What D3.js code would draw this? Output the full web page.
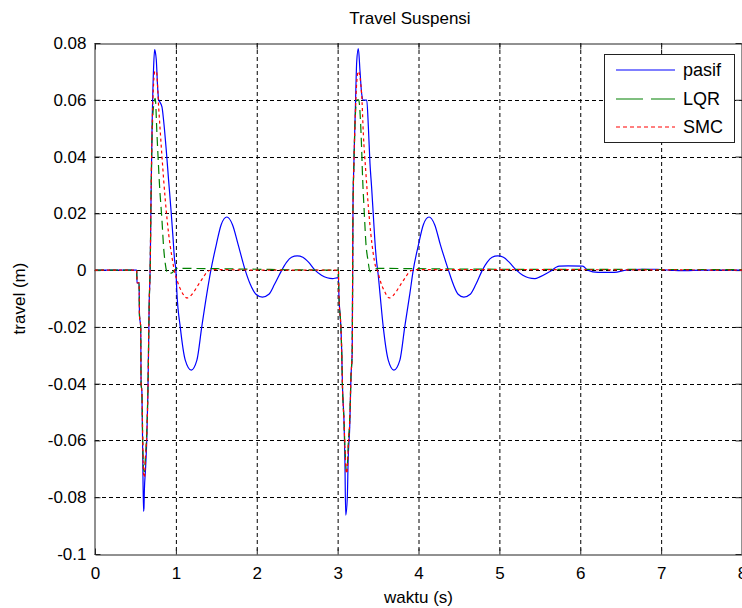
<!DOCTYPE html>
<html><head><meta charset="utf-8">
<script src="https://cdn.jsdelivr.net/npm/d3@7"></script>
<style>
html,body{margin:0;padding:0;background:#fff;}
text{font-family:"Liberation Sans",Arial,sans-serif;fill:#000;}
</style></head>
<body>
<svg id="chart" width="742" height="608"></svg>
<script>
const title = "Travel Suspensi";
const xLabel = "waktu (s)";
const yLabel = "travel (m)";
const xTicks = [0,1,2,3,4,5,6,7,8];
const yTicks = [-0.1,-0.08,-0.06,-0.04,-0.02,0,0.02,0.04,0.06,0.08];
const seriesNames = ["pasif","LQR","SMC"];

const tPasif = [0,0.515,0.52,0.545,0.55,0.565,0.57,0.58,0.59,0.60,0.605,0.61,0.625,0.64,0.655,0.67,0.684,0.69,0.705,0.725,0.737,0.745,0.758,0.774,0.787,0.80,0.828,0.848,0.881,0.91,0.94,0.964,0.984,1.0,1.013,1.054,1.116,1.19,1.26,1.32,1.384,1.433,1.50,1.56,1.63,1.70,1.77,1.857,1.92,1.99,2.07,2.15,2.22,2.31,2.37,2.43,2.50,2.57,2.64,2.72,2.80,2.87,2.94,2.99,3.01,3.015,3.04,3.05,3.06,3.08,3.09,3.10,3.12,3.13,3.15,3.165,3.18,3.186,3.19,3.20,3.22,3.236,3.256,3.277,3.297,3.318,3.36,3.38,3.40,3.42,3.44,3.46,3.48,3.50,3.523,3.564,3.626,3.696,3.77,3.83,3.894,3.935,4.0,4.06,4.13,4.20,4.27,4.37,4.43,4.49,4.56,4.64,4.71,4.79,4.85,4.91,4.98,5.05,5.12,5.21,5.29,5.36,5.44,5.50,5.62,5.74,5.85,6.03,6.09,6.22,6.42,6.57,6.75,6.95,7.1,7.3,7.5,8.0];
const pasif = [0,0,-0.0045,-0.0045,-0.016,-0.02,-0.04,-0.043,-0.065,-0.085,-0.084,-0.078,-0.07,-0.06,-0.042,-0.012,0.004,0.019,0.049,0.0716,0.0777,0.077,0.074,0.0646,0.06,0.0593,0.0575,0.0528,0.0423,0.0317,0.0211,0.0117,0.0035,0,-0.0081,-0.02,-0.0317,-0.0352,-0.0317,-0.02,-0.0081,0,0.009,0.016,0.0187,0.016,0.009,0,-0.005,-0.0085,-0.0095,-0.0085,-0.005,0,0.0028,0.0045,0.005,0.0045,0.0028,0,-0.0018,-0.0027,-0.003,-0.0027,-0.0027,-0.008,-0.02,-0.028,-0.041,-0.054,-0.067,-0.0863,-0.08,-0.067,-0.055,-0.0376,-0.029,0,0.0223,0.0364,0.0575,0.0734,0.078,0.07,0.0622,0.0599,0.0599,0.0505,0.0376,0.0293,0.02,0.0106,0.0035,-0.0012,-0.008,-0.02,-0.0317,-0.0352,-0.0317,-0.02,-0.0081,0,0.009,0.016,0.0187,0.016,0.009,0,-0.005,-0.0085,-0.0095,-0.0085,-0.005,0,0.0028,0.0045,0.005,0.0045,0.0028,0,-0.0018,-0.0027,-0.003,-0.0024,-0.0006,0.0014,0.0015,0.0014,0,-0.0008,-0.0008,0,0.0003,0.0003,0,-0.0002,0,0];

const tLqr = [0,0.515,0.52,0.545,0.55,0.565,0.57,0.58,0.59,0.60,0.61,0.625,0.64,0.655,0.67,0.684,0.69,0.705,0.725,0.745,0.766,0.799,0.828,0.848,0.869,0.898,0.95,1.01,1.5,2.0,2.5,3.0,3.01,3.015,3.04,3.05,3.06,3.08,3.09,3.11,3.12,3.13,3.15,3.165,3.18,3.186,3.19,3.20,3.22,3.24,3.26,3.29,3.31,3.33,3.35,3.375,3.40,3.45,3.5,4.0,5.0,8.0];
const lqr = [0,0,-0.0045,-0.0045,-0.016,-0.02,-0.04,-0.043,-0.06,-0.07,-0.071,-0.065,-0.057,-0.041,-0.012,0.004,0.019,0.046,0.058,0.0605,0.048,0.0293,0.0176,0.0082,0.0023,-0.0012,-0.001,0.0006,0.0005,0.0003,0.0001,0,0,-0.008,-0.02,-0.028,-0.041,-0.054,-0.062,-0.071,-0.069,-0.062,-0.052,-0.0376,-0.029,0,0.022,0.036,0.055,0.06,0.06,0.048,0.0317,0.02,0.0094,0.0035,-0.0005,0.0002,0.0006,0.0005,0.0003,0.0002];

const tSmc = [0,0.515,0.52,0.545,0.55,0.565,0.57,0.58,0.59,0.60,0.61,0.625,0.64,0.655,0.67,0.684,0.69,0.705,0.725,0.74,0.76,0.787,0.828,0.869,0.91,0.951,0.98,1.02,1.07,1.14,1.20,1.27,1.34,1.40,1.5,2.0,3.0,3.01,3.015,3.04,3.05,3.06,3.08,3.09,3.11,3.12,3.13,3.15,3.165,3.18,3.186,3.19,3.20,3.22,3.236,3.256,3.297,3.318,3.35,3.38,3.41,3.44,3.47,3.49,3.53,3.58,3.64,3.70,3.77,3.84,3.90,4.0,8.0];
const smc = [0,0,-0.0045,-0.0045,-0.016,-0.02,-0.04,-0.043,-0.06,-0.0716,-0.073,-0.066,-0.058,-0.042,-0.012,0.004,0.019,0.048,0.066,0.07,0.0699,0.0575,0.040,0.0247,0.0129,0.0047,0,-0.004,-0.0075,-0.0098,-0.0085,-0.0055,-0.0025,-0.0003,0.0002,0,0,0,-0.008,-0.02,-0.028,-0.041,-0.054,-0.062,-0.0716,-0.07,-0.063,-0.053,-0.0376,-0.029,0,0.022,0.036,0.056,0.066,0.07,0.062,0.048,0.034,0.0223,0.0129,0.0059,0.0012,0,-0.004,-0.0075,-0.0098,-0.0085,-0.0055,-0.0025,-0.0003,0.0002,0];

const colors = ["#0000ff","#008000","#ff0000"];
const dashes = [null,"9,5","3,3"];
const legendDashes = [null,"27,8","4,3"];

const svg = d3.select("#chart");
const L=95, R=742, T=43, B=554;
const x = d3.scaleLinear().domain([0,8]).range([L,R]);
const y = d3.scaleLinear().domain([-0.1,0.08]).range([B,T]);

// grid
const g = svg.append("g");
g.selectAll(".vg").data(xTicks.slice(1,-1)).enter().append("line")
  .attr("x1",d=>x(d)+0.5).attr("x2",d=>x(d)+0.5).attr("y1",T).attr("y2",B)
  .attr("stroke","#000").attr("stroke-width",1).attr("stroke-dasharray","4,3");
g.selectAll(".hg").data(yTicks.slice(1,-1)).enter().append("line")
  .attr("y1",d=>Math.round(y(d))+0.5).attr("y2",d=>Math.round(y(d))+0.5).attr("x1",L).attr("x2",R)
  .attr("stroke","#000").attr("stroke-width",1).attr("stroke-dasharray","4,3");

// axes
const xAxis = d3.axisBottom(x).tickValues(xTicks).tickSizeInner(-6).tickSizeOuter(0).tickPadding(12).tickFormat(d3.format("d"));
const yAxis = d3.axisLeft(y).tickValues(yTicks).tickSizeInner(-6).tickSizeOuter(0).tickPadding(8).tickFormat(d=>String(+d.toFixed(2)));
const xa = svg.append("g").attr("transform",`translate(0,${B+0.5})`).call(xAxis);
const ya = svg.append("g").attr("transform",`translate(${L-0.5},0)`).call(yAxis);
const xTop = svg.append("g").attr("transform",`translate(0,${T+0.5})`).call(d3.axisTop(x).tickValues(xTicks).tickSizeInner(-6).tickSizeOuter(0).tickFormat(""));
const yRight = svg.append("g").attr("transform",`translate(${R-0.5},0)`).call(d3.axisRight(y).tickValues(yTicks).tickSizeInner(-6).tickSizeOuter(0).tickFormat(""));
[xa,ya,xTop,yRight].forEach(a=>{
  a.selectAll("path.domain").attr("stroke","#222").attr("stroke-width",1);
  a.selectAll(".tick line").attr("stroke","#222");
  a.selectAll("text").style("font-size","17px").style("font-family","'Liberation Sans',Arial,sans-serif").attr("fill","#000");
});

// lines
svg.append("clipPath").attr("id","clip").append("rect").attr("x",L).attr("y",T).attr("width",R-L).attr("height",B-T);
const line = d3.line().x(d=>x(d[0])).y(d=>y(d[1])).curve(d3.curveMonotoneX);
const sets = [[tPasif,pasif],[tLqr,lqr],[tSmc,smc]];
[0,1,2].forEach(i=>{
  const pts = sets[i][0].map((t,k)=>[t,sets[i][1][k]]);
  const p = svg.append("path").attr("clip-path","url(#clip)").attr("d",line(pts))
    .attr("fill","none").attr("stroke",colors[i]).attr("stroke-width",1.2);
  if(dashes[i]) p.attr("stroke-dasharray",dashes[i]);
});

// titles
svg.append("text").attr("x",410).attr("y",24).attr("text-anchor","middle").style("font-size","17px").text(title);
svg.append("text").attr("x",(L+R)/2).attr("y",603).attr("text-anchor","middle").style("font-size","17px").text(xLabel);
svg.append("text").attr("transform",`translate(25,${(T+B)/2}) rotate(-90)`).attr("text-anchor","middle").style("font-size","17px").text(yLabel);

// legend
const lg = svg.append("g");
lg.append("rect").attr("x",604.5).attr("y",54.5).attr("width",130).attr("height",88)
  .attr("fill","#fff").attr("stroke","#222").attr("stroke-width",1);
const ly = [70,99,127];
seriesNames.forEach((n,i)=>{
  const ln = lg.append("line").attr("x1",616).attr("x2",675).attr("y1",ly[i]).attr("y2",ly[i])
    .attr("stroke",colors[i]).attr("stroke-width",1.2);
  if(legendDashes[i]) ln.attr("stroke-dasharray",legendDashes[i]);
  lg.append("text").attr("x",683).attr("y",ly[i]+6).style("font-size","18px").text(n);
});
</script>
</body></html>
